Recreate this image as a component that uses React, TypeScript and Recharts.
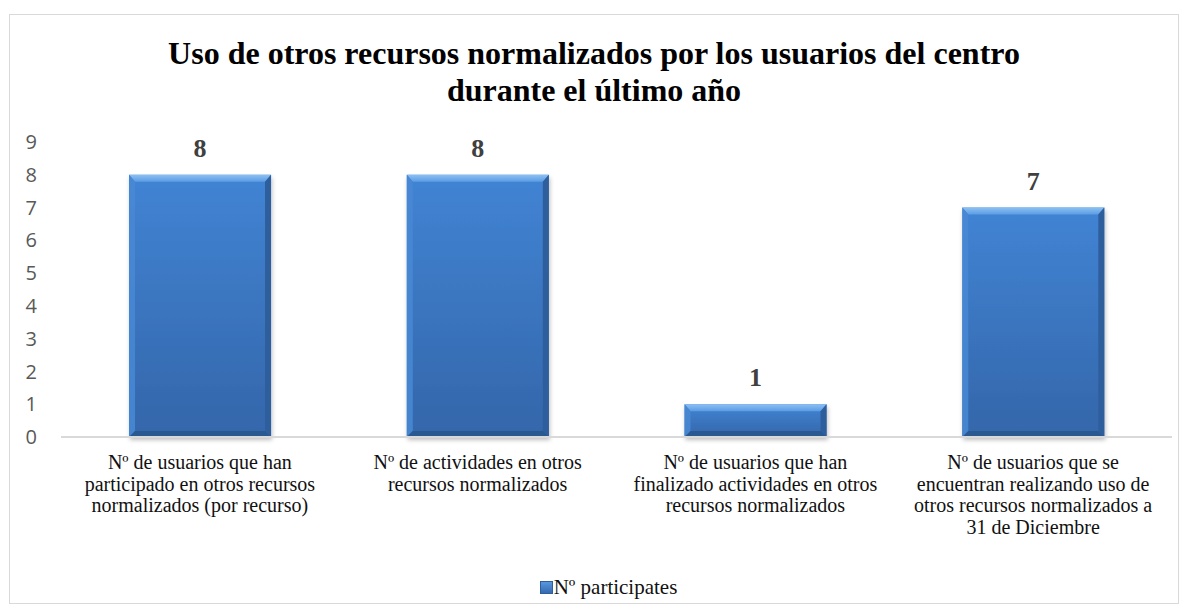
import React from 'react';
import { BarChart, Bar, XAxis, YAxis, Legend, LabelList } from 'recharts';

const categories = [
  'Nº de usuarios que han\nparticipado en otros recursos\nnormalizados (por recurso)',
  'Nº de actividades en otros\nrecursos normalizados',
  'Nº de usuarios que han\nfinalizado actividades en otros\nrecursos normalizados',
  'Nº de usuarios que se\nencuentran realizando uso de\notros recursos normalizados a\n31 de Diciembre',
];
const participantes = [8, 8, 1, 7];
const yTicks = [0, 1, 2, 3, 4, 5, 6, 7, 8, 9];
const seriesName = 'Nº participates';
const title = ['Uso de otros recursos normalizados por los usuarios del centro', 'durante el último año'];

const data = categories.map((name, i) => ({ name, value: participantes[i] }));

const SERIF = '"Liberation Serif", "Times New Roman", serif';

function BevelBar(props: any) {
  const { x, y, width, height } = props;
  if (!height || height <= 0) return null;
  const t = Math.min(7, height / 3);
  const s = Math.min(6, height / 3);
  const b = Math.min(6, height / 3);
  const x2 = x + width;
  const y2 = y + height;
  return (
    <g filter="url(#barShadow)">
      <rect x={x} y={y} width={width} height={height} fill="url(#faceGrad)" />
      <polygon points={`${x},${y} ${x2},${y} ${x2 - s},${y + t} ${x + s},${y + t}`} fill="url(#topGrad)" />
      <polygon points={`${x},${y} ${x + s},${y + t} ${x + s},${y2 - b} ${x},${y2}`} fill="#4787d3" opacity={0.9} />
      <polygon points={`${x2},${y} ${x2},${y2} ${x2 - s},${y2 - b} ${x2 - s},${y + t}`} fill="#2f5e9c" />
      <polygon points={`${x},${y2} ${x + s},${y2 - b} ${x2 - s},${y2 - b} ${x2},${y2}`} fill="#2c5891" />
    </g>
  );
}

function CategoryTick(props: any) {
  const { x, y, payload } = props;
  const lines = String(payload.value).split('\n');
  return (
    <text x={x} y={y + 24} textAnchor="middle" fill="#111" fontFamily={SERIF} fontSize={20}>
      {lines.map((l, i) => (
        <tspan key={i} x={x} dy={i === 0 ? 0 : 21.6}>{l}</tspan>
      ))}
    </text>
  );
}

function LegendContent(props: any) {
  const { payload } = props;
  return (
    <div style={{ display: 'flex', justifyContent: 'center', alignItems: 'center', paddingLeft: 30 }}>
      {(payload || []).map((p: any) => (
        <div key={p.value} style={{ display: 'flex', alignItems: 'center', fontFamily: SERIF, fontSize: 21, color: '#111' }}>
          <span style={{ display: 'inline-block', width: 13, height: 13, background: 'linear-gradient(#5a9be3, #3466ab)', boxShadow: 'inset 0 0 0 1px #2f5e9c', marginRight: 1 }} />
          {p.value}
        </div>
      ))}
    </div>
  );
}

export default function App() {
  return (
    <div style={{ position: 'absolute', left: 9, top: 14, width: 1170, height: 590, border: '1.5px solid #d9d9d9', boxSizing: 'border-box', background: '#fff' }}>
      <div style={{ position: 'absolute', left: 0, top: 20, width: '100%', textAlign: 'center', fontFamily: SERIF, fontWeight: 'bold', fontSize: 32, lineHeight: '37px', color: '#000' }}>
        {title[0]}<br />{title[1]}
      </div>
      <BarChart
        width={1170}
        height={590}
        data={data}
        margin={{ top: 128, right: 7, bottom: 47, left: 0 }}
        barCategoryGap="24.5%"
        style={{ position: 'absolute', left: -1.5, top: -1.5 }}
      >
        <defs>
          <linearGradient id="faceGrad" x1="0" y1="0" x2="0" y2="1">
            <stop offset="0%" stopColor="#4184d4" />
            <stop offset="100%" stopColor="#3466aa" />
          </linearGradient>
          <linearGradient id="topGrad" x1="0" y1="0" x2="0" y2="1">
            <stop offset="0%" stopColor="#8cc0f2" />
            <stop offset="100%" stopColor="#5b9ce4" />
          </linearGradient>
          <filter id="barShadow" x="-10%" y="-10%" width="120%" height="130%">
            <feDropShadow dx="1" dy="3" stdDeviation="2" floodColor="#000" floodOpacity="0.25" />
          </filter>
        </defs>
        <XAxis
          dataKey="name"
          interval={0}
          height={120}
          tickLine={false}
          axisLine={{ stroke: '#d9d9d9', strokeWidth: 2 }}
          tick={<CategoryTick />}
        />
        <YAxis
          width={52}
          domain={[0, 9]}
          ticks={yTicks}
          interval={0}
          axisLine={false}
          tickLine={false}
          tickMargin={18}
          tick={{ fill: '#595959', fontSize: 20, fontFamily: '"Open Sans", sans-serif' }}
        />
        <Legend
          verticalAlign="middle"
          align="center"
          wrapperStyle={{ top: 561, left: 0, width: 1170 }}
          content={<LegendContent />}
        />
        <Bar dataKey="value" name={seriesName} fill="#3a75c0" shape={<BevelBar />} isAnimationActive={false}>
          <LabelList
            dataKey="value"
            position="top"
            offset={18}
            fill="#404040"
            fontFamily={SERIF}
            fontWeight="bold"
            fontSize={26}
          />
        </Bar>
      </BarChart>
    </div>
  );
}
